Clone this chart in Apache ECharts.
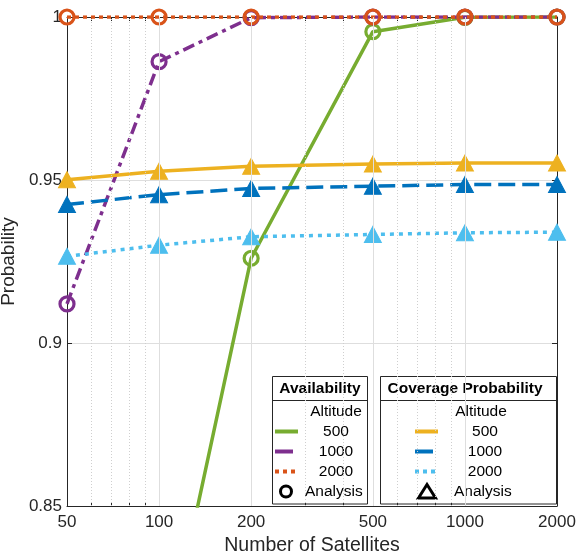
<!DOCTYPE html>
<html>
<head>
<meta charset="utf-8">
<script src="https://cdn.jsdelivr.net/npm/echarts@6/dist/echarts.min.js"></script>
<style>
  html, body { margin: 0; padding: 0; background: #fff; }
  #main { width: 576px; height: 557px; }
</style>
</head>
<body>
<div id="main"></div>
<script>
// 卫星数量（对数轴）
var satellites = [50, 100, 200, 500, 1000, 2000];
var majorTicks = [50, 100, 200, 500, 1000, 2000];
var minorTicks = [60, 70, 80, 90, 300, 400, 600, 700, 800, 900];
var gridMajor = [100, 200, 500, 1000];

// Availability（可用性）
var avail500 = [0.62, 0.795, 0.926, 0.9955, 0.9999, 1.0];
var avail1000 = [0.912, 0.9863, 0.9998, 1.0, 1.0, 1.0];
var avail2000 = [1.0, 1.0, 1.0, 1.0, 1.0, 1.0];

// Coverage Probability（覆盖概率）
var cov500 = [0.9501, 0.9527, 0.9542, 0.9549, 0.9552, 0.9552];
var cov1000 = [0.9425, 0.9455, 0.9474, 0.9481, 0.9486, 0.9486];
var cov2000 = [0.9266, 0.9300, 0.9326, 0.9333, 0.9338, 0.9340];

var FONT = "'Liberation Sans', Arial, Helvetica, sans-serif";
var AX = '#262626';

function pairs(vals) {
  return satellites.map(function (n, i) { return [n, vals[i]]; });
}

function availSeries(vals, color, dash) {
  return {
    type: 'line', xAxisIndex: 0, yAxisIndex: 0, z: 3,
    data: pairs(vals),
    symbol: 'circle', symbolSize: 14,
    itemStyle: { color: 'rgba(0,0,0,0)', borderColor: color, borderWidth: 3.2 },
    lineStyle: { color: color, width: 3.5, type: dash },
    clip: true, silent: true, animation: false
  };
}

function covSeries(vals, color, dash) {
  return {
    type: 'line', xAxisIndex: 0, yAxisIndex: 0, z: 3,
    data: pairs(vals),
    symbol: 'triangle', symbolSize: [17, 16],
    itemStyle: { color: color, borderColor: color, borderWidth: 1 },
    lineStyle: { color: color, width: 3.5, type: dash },
    clip: true, silent: true, animation: false
  };
}

// 竖直网格线（主/次），用 markLine 画在坐标系里
function gridSeries(vals, color, type) {
  return {
    type: 'line', xAxisIndex: 0, yAxisIndex: 0, z: 1,
    data: [], silent: true, animation: false,
    markLine: {
      silent: true, symbol: 'none', animation: false,
      label: { show: false },
      lineStyle: { color: color, width: 1, type: type },
      data: vals.map(function (v) { return { xAxis: v }; })
    }
  };
}

var axisTickAll = majorTicks.concat(minorTicks);

// 图例（手绘）
var legendText = function (x, y, text, align, bold) {
  return {
    type: 'text', x: x, y: y, silent: true,
    style: {
      text: text, fill: '#000', font: (bold ? 'bold 15.5px ' : '15.5px ') + FONT,
      textAlign: align || 'center', textVerticalAlign: 'middle'
    }
  };
};
var legendLine = function (x1, x2, y, color, dash) {
  return {
    type: 'line', silent: true,
    shape: { x1: x1, y1: y, x2: x2, y2: y },
    style: { stroke: color, lineWidth: 4, lineDash: dash || null }
  };
};

var rows = [431.5, 451.5, 471.5, 491.5];
var graphics = [
  { type: 'rect', silent: true, shape: { x: 272.5, y: 376.5, width: 95, height: 127.5 },
    style: { fill: '#fff', stroke: AX, lineWidth: 1 } },
  { type: 'line', silent: true, shape: { x1: 272.5, y1: 400.5, x2: 367.5, y2: 400.5 },
    style: { stroke: AX, lineWidth: 1 } },
  legendText(320, 389, 'Availability', 'center', true),
  legendText(336, 412, 'Altitude'),
  legendLine(275, 298, rows[0], '#77AC30'),
  legendLine(275, 293, rows[1], '#7E2F8E'),
  legendLine(275, 299, rows[2], '#D95319', [4, 4]),
  legendText(336, rows[0], '500'),
  legendText(336, rows[1], '1000'),
  legendText(336, rows[2], '2000'),
  { type: 'circle', silent: true, shape: { cx: 286, cy: rows[3], r: 5.5 },
    style: { fill: '#fff', stroke: '#000', lineWidth: 3 } },
  legendText(305, rows[3], 'Analysis', 'left'),

  { type: 'rect', silent: true, shape: { x: 380.5, y: 376.5, width: 176, height: 127.5 },
    style: { fill: '#fff', stroke: AX, lineWidth: 1 } },
  { type: 'line', silent: true, shape: { x1: 380.5, y1: 400.5, x2: 556.5, y2: 400.5 },
    style: { stroke: AX, lineWidth: 1 } },
  legendText(465, 389, 'Coverage Probability', 'center', true),
  legendText(481, 412, 'Altitude'),
  legendLine(415, 438, rows[0], '#EDB120'),
  legendLine(415, 433, rows[1], '#0072BD'),
  legendLine(415, 439, rows[2], '#4DBEEE', [4, 4]),
  legendText(485, rows[0], '500'),
  legendText(485, rows[1], '1000'),
  legendText(485, rows[2], '2000'),
  { type: 'polygon', silent: true,
    shape: { points: [[427, 484.5], [435.5, 498], [418.5, 498]] },
    style: { fill: '#fff', stroke: '#000', lineWidth: 3, lineJoin: 'miter' } },
  legendText(454, rows[3], 'Analysis', 'left')
];

var chart = echarts.init(document.getElementById('main'), null, { renderer: 'canvas' });

chart.setOption({
  animation: false,
  backgroundColor: '#fff',
  textStyle: { fontFamily: FONT },
  grid: { left: 67, right: 19, top: 17, bottom: 51, containLabel: false, outerBoundsMode: 'none' },
  xAxis: [
    {
      type: 'log', logBase: 10, min: 50, max: 2000, position: 'bottom',
      name: 'Number of Satellites', nameLocation: 'middle', nameGap: 28,
      nameTextStyle: { fontSize: 19.5, color: AX, fontFamily: FONT },
      axisLine: { show: true, onZero: false, lineStyle: { color: AX, width: 1 } },
      axisTick: { show: true, inside: true, length: 4, customValues: axisTickAll,
        lineStyle: { color: AX } },
      axisLabel: { show: true, customValues: majorTicks, fontSize: 17, color: AX, margin: 8,
        fontFamily: FONT, formatter: function (v) { return String(Math.round(v)); } },
      splitLine: { show: false }
    },
    {
      type: 'log', logBase: 10, min: 50, max: 2000, position: 'top',
      axisLine: { show: true, onZero: false, lineStyle: { color: AX, width: 1 } },
      axisTick: { show: true, inside: true, length: 4, customValues: axisTickAll,
        lineStyle: { color: AX } },
      axisLabel: { show: false },
      splitLine: { show: false }
    }
  ],
  yAxis: [
    {
      type: 'value', min: 0.85, max: 1, interval: 0.05, position: 'left',
      name: 'Probability', nameLocation: 'middle', nameGap: 44,
      nameTextStyle: { fontSize: 19, color: AX, fontFamily: FONT },
      axisLine: { show: true, onZero: false, lineStyle: { color: AX, width: 1 } },
      axisTick: { show: true, inside: true, length: 5, lineStyle: { color: AX } },
      axisLabel: { fontSize: 17, color: AX, margin: 5, fontFamily: FONT,
        formatter: function (v) { return String(+v.toFixed(2)); } },
      splitLine: { show: true, lineStyle: { color: '#dedede', width: 1 } }
    },
    {
      type: 'value', min: 0.85, max: 1, interval: 0.05, position: 'right',
      axisLine: { show: true, onZero: false, lineStyle: { color: AX, width: 1 } },
      axisTick: { show: true, inside: true, length: 5, lineStyle: { color: AX } },
      axisLabel: { show: false },
      splitLine: { show: false }
    }
  ],
  series: [
    gridSeries(gridMajor, '#dedede', 'solid'),
    gridSeries(minorTicks, '#cfcfcf', [1, 2]),
    availSeries(avail500, '#77AC30', 'solid'),
    availSeries(avail1000, '#7E2F8E', [12, 5, 4, 5]),
    availSeries(avail2000, '#D95319', [4, 4]),
    covSeries(cov500, '#EDB120', 'solid'),
    covSeries(cov1000, '#0072BD', [17, 7]),
    covSeries(cov2000, '#4DBEEE', [4, 5])
  ],
  graphic: { elements: graphics }
});
</script>
</body>
</html>
